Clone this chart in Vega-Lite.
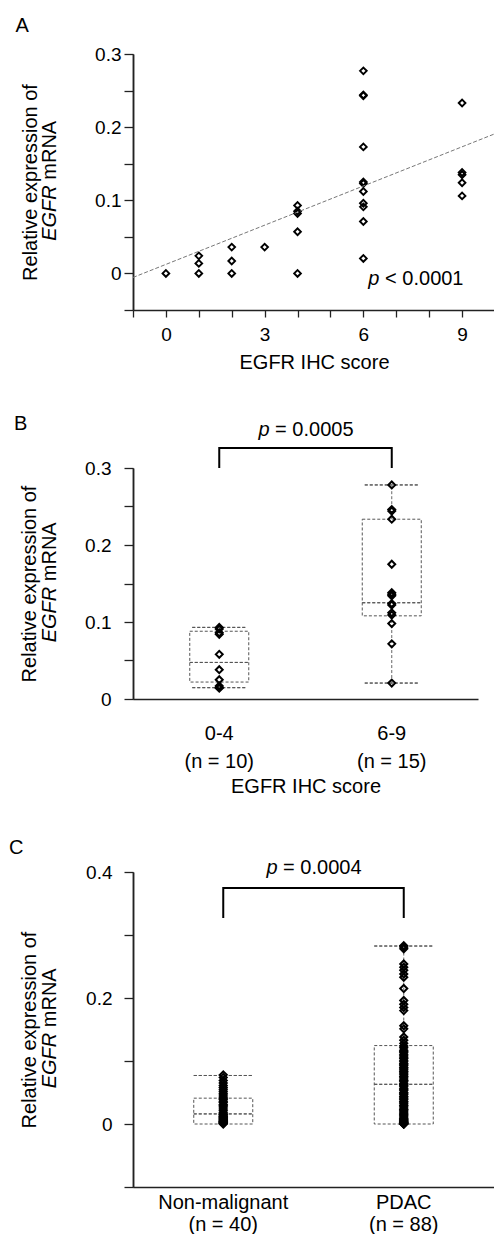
{
  "$schema": "https://vega.github.io/schema/vega-lite/v6.json",
  "background": "white",
  "padding": {"left": 8, "top": 16, "right": 0, "bottom": 0},
  "config": {
    "view": {"stroke": null},
    "font": "Liberation Sans",
    "axis": {"grid": false, "domainColor": "#222", "domainWidth": 1.5, "tickColor": "#222", "tickWidth": 1.3, "labelColor": "#000", "titleColor": "#000", "labelFont": "Liberation Sans", "titleFont": "Liberation Sans", "labelFontSize": 19, "titleFontSize": 20, "titleFontWeight": "normal", "labelFlush": false, "labelOverlap": false},
    "title": {"font": "Liberation Sans", "fontSize": 20, "fontWeight": "normal", "anchor": "start", "frame": "bounds", "color": "#000"}
  },
  "datasets": {
    "a_fit": [{"x": -1, "y": -0.0055}, {"x": 10, "y": 0.191}],
    "a_pts": [
      {"x": 0, "y": 0},
      {"x": 1, "y": 0}, {"x": 1, "y": 0.0137}, {"x": 1, "y": 0.024},
      {"x": 2, "y": 0}, {"x": 2, "y": 0.017}, {"x": 2, "y": 0.036},
      {"x": 3, "y": 0.036},
      {"x": 4, "y": 0}, {"x": 4, "y": 0.057}, {"x": 4, "y": 0.082}, {"x": 4, "y": 0.085}, {"x": 4, "y": 0.093},
      {"x": 6, "y": 0.0205}, {"x": 6, "y": 0.071}, {"x": 6, "y": 0.091}, {"x": 6, "y": 0.096}, {"x": 6, "y": 0.112}, {"x": 6, "y": 0.123}, {"x": 6, "y": 0.125}, {"x": 6, "y": 0.173}, {"x": 6, "y": 0.243}, {"x": 6, "y": 0.244}, {"x": 6, "y": 0.277},
      {"x": 9, "y": 0.106}, {"x": 9, "y": 0.124}, {"x": 9, "y": 0.135}, {"x": 9, "y": 0.138}, {"x": 9, "y": 0.233}
    ],
    "b_pts": [
      {"g": "0-4", "v": 0.093}, {"g": "0-4", "v": 0.091}, {"g": "0-4", "v": 0.086}, {"g": "0-4", "v": 0.084}, {"g": "0-4", "v": 0.058},
      {"g": "0-4", "v": 0.038}, {"g": "0-4", "v": 0.025}, {"g": "0-4", "v": 0.017}, {"g": "0-4", "v": 0.015}, {"g": "0-4", "v": 0.014},
      {"g": "6-9", "v": 0.278}, {"g": "6-9", "v": 0.246}, {"g": "6-9", "v": 0.244}, {"g": "6-9", "v": 0.2335}, {"g": "6-9", "v": 0.175},
      {"g": "6-9", "v": 0.138}, {"g": "6-9", "v": 0.136}, {"g": "6-9", "v": 0.134}, {"g": "6-9", "v": 0.124}, {"g": "6-9", "v": 0.122},
      {"g": "6-9", "v": 0.112}, {"g": "6-9", "v": 0.109}, {"g": "6-9", "v": 0.098}, {"g": "6-9", "v": 0.0716}, {"g": "6-9", "v": 0.0207}
    ],
    "b_box": [
      {"g": "0-4", "lo": 0.0147, "q1": 0.022, "med": 0.0475, "q3": 0.088, "hi": 0.093},
      {"g": "6-9", "lo": 0.0207, "q1": 0.108, "med": 0.125, "q3": 0.2335, "hi": 0.278}
    ],
    "b_br": [
      {"g": "0-4", "y": 0.3, "o": 1}, {"g": "0-4", "y": 0.326, "o": 2},
      {"g": "6-9", "y": 0.326, "o": 3}, {"g": "6-9", "y": 0.3, "o": 4}
    ],
    "c_pts": [
      {"g": "Non-malignant", "v": 0.078}, {"g": "Non-malignant", "v": 0.074}, {"g": "Non-malignant", "v": 0.069}, {"g": "Non-malignant", "v": 0.065},
      {"g": "Non-malignant", "v": 0.061}, {"g": "Non-malignant", "v": 0.058}, {"g": "Non-malignant", "v": 0.055}, {"g": "Non-malignant", "v": 0.052},
      {"g": "Non-malignant", "v": 0.049}, {"g": "Non-malignant", "v": 0.046}, {"g": "Non-malignant", "v": 0.043}, {"g": "Non-malignant", "v": 0.041},
      {"g": "Non-malignant", "v": 0.039}, {"g": "Non-malignant", "v": 0.036}, {"g": "Non-malignant", "v": 0.034}, {"g": "Non-malignant", "v": 0.031},
      {"g": "Non-malignant", "v": 0.029}, {"g": "Non-malignant", "v": 0.027}, {"g": "Non-malignant", "v": 0.024}, {"g": "Non-malignant", "v": 0.021},
      {"g": "Non-malignant", "v": 0.018}, {"g": "Non-malignant", "v": 0.016}, {"g": "Non-malignant", "v": 0.015}, {"g": "Non-malignant", "v": 0.013},
      {"g": "Non-malignant", "v": 0.012}, {"g": "Non-malignant", "v": 0.011}, {"g": "Non-malignant", "v": 0.010}, {"g": "Non-malignant", "v": 0.009},
      {"g": "Non-malignant", "v": 0.008}, {"g": "Non-malignant", "v": 0.007}, {"g": "Non-malignant", "v": 0.006}, {"g": "Non-malignant", "v": 0.005},
      {"g": "Non-malignant", "v": 0.004}, {"g": "Non-malignant", "v": 0.004}, {"g": "Non-malignant", "v": 0.003}, {"g": "Non-malignant", "v": 0.002},
      {"g": "Non-malignant", "v": 0.002}, {"g": "Non-malignant", "v": 0.001}, {"g": "Non-malignant", "v": 0.001}, {"g": "Non-malignant", "v": 0.0},
      {"g": "PDAC", "v": 0.283}, {"g": "PDAC", "v": 0.281}, {"g": "PDAC", "v": 0.278}, {"g": "PDAC", "v": 0.254}, {"g": "PDAC", "v": 0.249},
      {"g": "PDAC", "v": 0.244}, {"g": "PDAC", "v": 0.238}, {"g": "PDAC", "v": 0.233}, {"g": "PDAC", "v": 0.215}, {"g": "PDAC", "v": 0.196},
      {"g": "PDAC", "v": 0.190}, {"g": "PDAC", "v": 0.185}, {"g": "PDAC", "v": 0.180}, {"g": "PDAC", "v": 0.156}, {"g": "PDAC", "v": 0.151},
      {"g": "PDAC", "v": 0.138}, {"g": "PDAC", "v": 0.133}, {"g": "PDAC", "v": 0.128},
      {"g": "PDAC", "v": 0.124}, {"g": "PDAC", "v": 0.121}, {"g": "PDAC", "v": 0.117}, {"g": "PDAC", "v": 0.115}, {"g": "PDAC", "v": 0.113},
      {"g": "PDAC", "v": 0.110}, {"g": "PDAC", "v": 0.108}, {"g": "PDAC", "v": 0.105}, {"g": "PDAC", "v": 0.104}, {"g": "PDAC", "v": 0.101},
      {"g": "PDAC", "v": 0.099}, {"g": "PDAC", "v": 0.096}, {"g": "PDAC", "v": 0.095}, {"g": "PDAC", "v": 0.093}, {"g": "PDAC", "v": 0.090},
      {"g": "PDAC", "v": 0.089}, {"g": "PDAC", "v": 0.087}, {"g": "PDAC", "v": 0.084}, {"g": "PDAC", "v": 0.083}, {"g": "PDAC", "v": 0.081},
      {"g": "PDAC", "v": 0.079}, {"g": "PDAC", "v": 0.076}, {"g": "PDAC", "v": 0.075}, {"g": "PDAC", "v": 0.073}, {"g": "PDAC", "v": 0.070},
      {"g": "PDAC", "v": 0.069}, {"g": "PDAC", "v": 0.067}, {"g": "PDAC", "v": 0.064}, {"g": "PDAC", "v": 0.063}, {"g": "PDAC", "v": 0.061},
      {"g": "PDAC", "v": 0.059}, {"g": "PDAC", "v": 0.056}, {"g": "PDAC", "v": 0.055}, {"g": "PDAC", "v": 0.053}, {"g": "PDAC", "v": 0.050},
      {"g": "PDAC", "v": 0.049}, {"g": "PDAC", "v": 0.047}, {"g": "PDAC", "v": 0.044}, {"g": "PDAC", "v": 0.043}, {"g": "PDAC", "v": 0.041},
      {"g": "PDAC", "v": 0.039}, {"g": "PDAC", "v": 0.036}, {"g": "PDAC", "v": 0.035}, {"g": "PDAC", "v": 0.033}, {"g": "PDAC", "v": 0.030},
      {"g": "PDAC", "v": 0.029}, {"g": "PDAC", "v": 0.027}, {"g": "PDAC", "v": 0.024}, {"g": "PDAC", "v": 0.023}, {"g": "PDAC", "v": 0.021},
      {"g": "PDAC", "v": 0.019}, {"g": "PDAC", "v": 0.017}, {"g": "PDAC", "v": 0.015}, {"g": "PDAC", "v": 0.013}, {"g": "PDAC", "v": 0.011},
      {"g": "PDAC", "v": 0.009}, {"g": "PDAC", "v": 0.008}, {"g": "PDAC", "v": 0.007}, {"g": "PDAC", "v": 0.006}, {"g": "PDAC", "v": 0.005},
      {"g": "PDAC", "v": 0.004}, {"g": "PDAC", "v": 0.003}, {"g": "PDAC", "v": 0.003}, {"g": "PDAC", "v": 0.002}, {"g": "PDAC", "v": 0.002},
      {"g": "PDAC", "v": 0.001}, {"g": "PDAC", "v": 0.001}, {"g": "PDAC", "v": 0.0}, {"g": "PDAC", "v": 0.0}, {"g": "PDAC", "v": 0.0}
    ],
    "c_box": [
      {"g": "Non-malignant", "lo": 0, "q1": 0, "med": 0.016, "q3": 0.041, "hi": 0.077},
      {"g": "PDAC", "lo": 0, "q1": 0, "med": 0.063, "q3": 0.1245, "hi": 0.2825}
    ],
    "c_br": [
      {"g": "Non-malignant", "y": 0.327, "o": 1}, {"g": "Non-malignant", "y": 0.3747, "o": 2},
      {"g": "PDAC", "y": 0.3747, "o": 3}, {"g": "PDAC", "y": 0.327, "o": 4}
    ]
  },
  "columns": 1,
  "align": "none",
  "spacing": 41,
  "concat": [
    {
      "width": 362,
      "height": 256,
      "title": {"text": "A", "offset": 9, "dx": -5},
      "resolve": {"axis": {"y": "independent"}},
      "layer": [
        {
          "data": {"name": "a_pts"},
          "mark": {"type": "point", "shape": "diamond", "filled": false, "color": "#000", "strokeWidth": 1.9, "size": 45, "opacity": 1},
          "encoding": {
            "x": {"field": "x", "type": "quantitative", "scale": {"domain": [-1, 10], "nice": false, "zero": false},
              "axis": {"title": "EGFR IHC score", "values": [-1, 0, 1, 2, 3, 4, 5, 6, 7, 8, 9, 10], "tickCount": 30, "labelExpr": "datum.value >= 0 && datum.value % 3 == 0 ? format(datum.value, '~g') : ''", "labelOverlap": false, "tickSize": 7, "labelPadding": 8, "titlePadding": 8}},
            "y": {"field": "y", "type": "quantitative", "scale": {"domain": [-0.05, 0.3], "nice": false, "zero": false},
              "axis": {"orient": "left", "title": "Relative expression of", "values": [-0.05, 0, 0.05, 0.1, 0.15, 0.2, 0.25, 0.3], "tickCount": 30, "labelExpr": "datum.value >= 0 && abs(round(datum.value * 100)) % 10 == 0 ? format(datum.value, '~g') : ''", "labelOverlap": false, "tickSize": 9, "labelPadding": 3, "titlePadding": 54}}
          }
        },
        {
          "data": {"name": "a_fit"},
          "mark": {"type": "line", "color": "#777", "strokeWidth": 1, "strokeDash": [4, 2]},
          "encoding": {"x": {"field": "x", "type": "quantitative"}, "y": {"field": "y", "type": "quantitative", "axis": null}}
        },
        {
          "data": {"values": [{}]},
          "mark": {"type": "text", "text": "p", "fontStyle": "italic", "fontSize": 20, "align": "right", "baseline": "alphabetic", "color": "#000"},
          "encoding": {"x": {"datum": 6.49}, "y": {"datum": -0.0164, "type": "quantitative",
            "axis": {"orient": "left", "title": null, "values": [0.1212, 0.1288], "tickCount": 30, "ticks": false, "tickSize": 0, "labelExpr": "datum.value < 0.125 ? 'EGFR' : 'mRNA'", "labelAngle": 270, "labelAlign": {"condition": {"test": "datum.value < 0.125", "value": "right"}, "value": "left"}, "labelFontStyle": {"condition": {"test": "datum.value < 0.125", "value": "italic"}, "value": "normal"}, "labelBaseline": "bottom", "labelFontSize": 20, "labelPadding": 73.5, "labelOverlap": false, "labelBound": false}}}
        },
        {
          "data": {"values": [{}]},
          "mark": {"type": "text", "text": "< 0.0001", "fontSize": 20, "align": "left", "baseline": "alphabetic", "dx": 5.6, "color": "#000"},
          "encoding": {"x": {"datum": 6.49}, "y": {"datum": -0.0164, "type": "quantitative", "axis": null}}
        }
      ]
    },
    {
      "width": 345,
      "height": 231,
      "title": {"text": "B", "offset": -14, "dx": -6},
      "resolve": {"axis": {"y": "independent"}},
      "layer": [
        {
          "data": {"name": "b_box"},
          "mark": {"type": "bar", "width": 59, "fill": "transparent", "stroke": "#555", "strokeWidth": 1, "strokeDash": [3, 2]},
          "encoding": {
            "x": {"field": "g", "type": "nominal", "scale": {"domain": ["0-4", "6-9"], "paddingInner": 0, "paddingOuter": 0},
              "axis": {"title": "EGFR IHC score", "ticks": false, "labelAngle": 0, "labelExpr": "datum.value == '0-4' ? ['0-4', '(n = 10)'] : ['6-9', '(n = 15)']", "labelFontSize": 20, "labelLineHeight": 28, "labelPadding": 24, "titlePadding": 5}},
            "y": {"field": "q1", "type": "quantitative", "scale": {"domain": [0, 0.3], "nice": false, "zero": false},
              "axis": {"orient": "left", "title": "Relative expression of", "values": [0, 0.05, 0.1, 0.15, 0.2, 0.25, 0.3], "tickCount": 30, "labelExpr": "abs(round(datum.value * 100)) % 10 == 0 ? format(datum.value, '~g') : ''", "labelOverlap": false, "tickSize": 9, "labelPadding": 13, "titlePadding": 44.6}},
            "y2": {"field": "q3"}
          }
        },
        {
          "data": {"name": "b_box"},
          "mark": {"type": "bar", "width": 59, "fill": "transparent", "stroke": "#555", "strokeWidth": 1, "strokeDash": [3, 2]},
          "encoding": {"x": {"field": "g", "type": "nominal"}, "y": {"field": "med", "type": "quantitative", "axis": null}, "y2": {"field": "med"}}
        },
        {
          "data": {"name": "b_box"},
          "mark": {"type": "bar", "width": 54, "fill": "transparent", "stroke": "#555", "strokeWidth": 1, "strokeDash": [3, 2]},
          "encoding": {"x": {"field": "g", "type": "nominal"}, "y": {"field": "hi", "type": "quantitative", "axis": null}, "y2": {"field": "hi"}}
        },
        {
          "data": {"name": "b_box"},
          "mark": {"type": "bar", "width": 54, "fill": "transparent", "stroke": "#555", "strokeWidth": 1, "strokeDash": [3, 2]},
          "encoding": {"x": {"field": "g", "type": "nominal"}, "y": {"field": "lo", "type": "quantitative", "axis": null}, "y2": {"field": "lo"}}
        },
        {
          "data": {"name": "b_box"},
          "mark": {"type": "rule", "color": "#666", "strokeWidth": 1, "strokeDash": [3, 2]},
          "encoding": {"x": {"field": "g", "type": "nominal"}, "y": {"field": "q3", "type": "quantitative", "axis": null}, "y2": {"field": "hi"}}
        },
        {
          "data": {"name": "b_box"},
          "mark": {"type": "rule", "color": "#666", "strokeWidth": 1, "strokeDash": [3, 2]},
          "encoding": {"x": {"field": "g", "type": "nominal"}, "y": {"field": "lo", "type": "quantitative", "axis": null}, "y2": {"field": "q1"}}
        },
        {
          "data": {"name": "b_pts"},
          "mark": {"type": "point", "shape": "diamond", "filled": false, "color": "#000", "strokeWidth": 2, "size": 48, "opacity": 1},
          "encoding": {"x": {"field": "g", "type": "nominal"}, "y": {"field": "v", "type": "quantitative", "axis": null}}
        },
        {
          "data": {"name": "b_br"},
          "mark": {"type": "line", "color": "#000", "strokeWidth": 2},
          "encoding": {"x": {"field": "g", "type": "nominal"}, "y": {"field": "y", "type": "quantitative", "axis": null}, "order": {"field": "o", "type": "quantitative"}}
        },
        {
          "data": {"values": [{}]},
          "mark": {"type": "text", "text": "p", "fontStyle": "italic", "fontSize": 20, "align": "right", "baseline": "alphabetic", "dx": -36, "color": "#000"},
          "encoding": {"x": {"datum": "0-4", "bandPosition": 1}, "y": {"datum": 0.342, "type": "quantitative",
            "axis": {"orient": "left", "title": null, "values": [0.1464, 0.1536], "tickCount": 30, "ticks": false, "tickSize": 0, "labelExpr": "datum.value < 0.15 ? 'EGFR' : 'mRNA'", "labelAngle": 270, "labelAlign": {"condition": {"test": "datum.value < 0.15", "value": "right"}, "value": "left"}, "labelFontStyle": {"condition": {"test": "datum.value < 0.15", "value": "italic"}, "value": "normal"}, "labelBaseline": "bottom", "labelFontSize": 20, "labelPadding": 74, "labelOverlap": false, "labelBound": false}}}
        },
        {
          "data": {"values": [{}]},
          "mark": {"type": "text", "text": "= 0.0005", "fontSize": 20, "align": "left", "baseline": "alphabetic", "dx": -30.4, "color": "#000"},
          "encoding": {"x": {"datum": "0-4", "bandPosition": 1}, "y": {"datum": 0.342, "type": "quantitative", "axis": null}}
        }
      ]
    },
    {
      "width": 361,
      "height": 315,
      "title": {"text": "C", "offset": 0, "dx": -11},
      "resolve": {"axis": {"y": "independent"}},
      "layer": [
        {
          "data": {"name": "c_box"},
          "mark": {"type": "bar", "width": 59, "fill": "transparent", "stroke": "#555", "strokeWidth": 1, "strokeDash": [3, 2]},
          "encoding": {
            "x": {"field": "g", "type": "nominal", "scale": {"domain": ["Non-malignant", "PDAC"], "paddingInner": 0, "paddingOuter": 0},
              "axis": {"title": null, "ticks": false, "labelAngle": 0, "labelExpr": "datum.value == 'PDAC' ? ['PDAC', '(n = 88)'] : ['Non-malignant', '(n = 40)']", "labelFontSize": 20, "labelLineHeight": 22, "labelPadding": 5}},
            "y": {"field": "q1", "type": "quantitative", "scale": {"domain": [-0.1, 0.4], "nice": false, "zero": false},
              "axis": {"orient": "left", "title": "Relative expression of", "values": [-0.1, 0, 0.1, 0.2, 0.3, 0.4], "tickCount": 30, "labelExpr": "datum.value >= 0 && abs(round(datum.value * 10)) % 2 == 0 ? format(datum.value, '~g') : ''", "labelOverlap": false, "tickSize": 9, "labelPadding": 12, "titlePadding": 45.6}},
            "y2": {"field": "q3"}
          }
        },
        {
          "data": {"name": "c_box"},
          "mark": {"type": "bar", "width": 59, "fill": "transparent", "stroke": "#555", "strokeWidth": 1, "strokeDash": [3, 2]},
          "encoding": {"x": {"field": "g", "type": "nominal"}, "y": {"field": "med", "type": "quantitative", "axis": null}, "y2": {"field": "med"}}
        },
        {
          "data": {"name": "c_box"},
          "mark": {"type": "bar", "width": 59, "fill": "transparent", "stroke": "#555", "strokeWidth": 1, "strokeDash": [3, 2]},
          "encoding": {"x": {"field": "g", "type": "nominal"}, "y": {"field": "hi", "type": "quantitative", "axis": null}, "y2": {"field": "hi"}}
        },
        {
          "data": {"name": "c_box"},
          "mark": {"type": "rule", "color": "#666", "strokeWidth": 1, "strokeDash": [3, 2]},
          "encoding": {"x": {"field": "g", "type": "nominal"}, "y": {"field": "q3", "type": "quantitative", "axis": null}, "y2": {"field": "hi"}}
        },
        {
          "data": {"name": "c_pts"},
          "mark": {"type": "point", "shape": "diamond", "filled": false, "color": "#000", "strokeWidth": 2, "size": 50, "opacity": 1},
          "encoding": {"x": {"field": "g", "type": "nominal"}, "y": {"field": "v", "type": "quantitative", "axis": null}}
        },
        {
          "data": {"name": "c_br"},
          "mark": {"type": "line", "color": "#000", "strokeWidth": 2},
          "encoding": {"x": {"field": "g", "type": "nominal"}, "y": {"field": "y", "type": "quantitative", "axis": null}, "order": {"field": "o", "type": "quantitative"}}
        },
        {
          "data": {"values": [{}]},
          "mark": {"type": "text", "text": "p", "fontStyle": "italic", "fontSize": 20, "align": "right", "baseline": "alphabetic", "dx": -36, "color": "#000"},
          "encoding": {"x": {"datum": "Non-malignant", "bandPosition": 1}, "y": {"datum": 0.397, "type": "quantitative",
            "axis": {"orient": "left", "title": null, "values": [0.1456, 0.1544], "tickCount": 30, "ticks": false, "tickSize": 0, "labelExpr": "datum.value < 0.15 ? 'EGFR' : 'mRNA'", "labelAngle": 270, "labelAlign": {"condition": {"test": "datum.value < 0.15", "value": "right"}, "value": "left"}, "labelFontStyle": {"condition": {"test": "datum.value < 0.15", "value": "italic"}, "value": "normal"}, "labelBaseline": "bottom", "labelFontSize": 20, "labelPadding": 74, "labelOverlap": false, "labelBound": false}}}
        },
        {
          "data": {"values": [{}]},
          "mark": {"type": "text", "text": "= 0.0004", "fontSize": 20, "align": "left", "baseline": "alphabetic", "dx": -30.4, "color": "#000"},
          "encoding": {"x": {"datum": "Non-malignant", "bandPosition": 1}, "y": {"datum": 0.397, "type": "quantitative", "axis": null}}
        }
      ]
    }
  ]
}
